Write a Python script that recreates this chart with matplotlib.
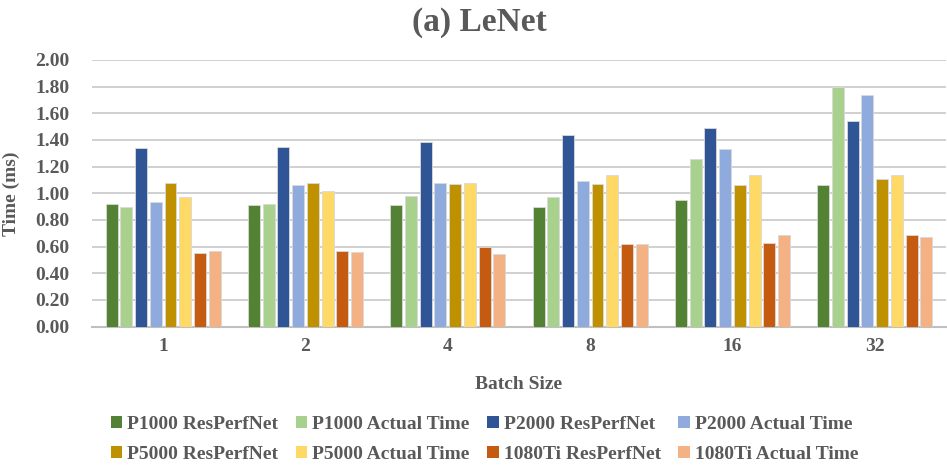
import matplotlib
matplotlib.use('Agg')
import matplotlib.pyplot as plt
import numpy as np

# data
batch_sizes = ['1', '2', '4', '8', '16', '32']
series_names = ['P1000 ResPerfNet', 'P1000 Actual Time', 'P2000 ResPerfNet', 'P2000 Actual Time',
                'P5000 ResPerfNet', 'P5000 Actual Time', '1080Ti ResPerfNet', '1080Ti Actual Time']
p1000_pred = [0.92, 0.91, 0.91, 0.90, 0.95, 1.065]
p1000_act = [0.90, 0.92, 0.98, 0.97, 1.255, 1.795]
p2000_pred = [1.34, 1.345, 1.385, 1.435, 1.49, 1.54]
p2000_act = [0.935, 1.06, 1.08, 1.09, 1.33, 1.735]
p5000_pred = [1.08, 1.075, 1.07, 1.07, 1.065, 1.11]
p5000_act = [0.97, 1.02, 1.075, 1.135, 1.135, 1.135]
ti1080_pred = [0.55, 0.565, 0.60, 0.62, 0.63, 0.69]
ti1080_act = [0.565, 0.56, 0.545, 0.62, 0.685, 0.67]

series = [p1000_pred, p1000_act, p2000_pred, p2000_act,
          p5000_pred, p5000_act, ti1080_pred, ti1080_act]
colors = ['#548235', '#A9D18E', '#2F5597', '#8FAADC',
          '#BF9000', '#FFD966', '#C55A11', '#F4B183']

TXT = '#595959'
plt.rcParams['font.family'] = ['Liberation Serif', 'DejaVu Serif']
plt.rcParams['font.weight'] = 'bold'

fig = plt.figure(figsize=(9.47, 4.66), dpi=100)
ax = fig.add_axes([0.0971, 0.299, 0.9018, 0.5723])

x = np.arange(len(batch_sizes))
slot, bw = 0.1035, 0.084
for j, (vals, c, name) in enumerate(zip(series, colors, series_names)):
    ax.bar(x + (j - 3.5) * slot, vals, bw, color=c, label=name,
           edgecolor='#d9d9d9', linewidth=0.6, zorder=3)

ax.set_xlim(-0.5, len(batch_sizes) - 0.5)
ax.set_ylim(0, 2.0)
ax.set_yticks(np.arange(0, 2.01, 0.2))
ax.set_yticklabels([f'{v:.2f}' for v in np.arange(0, 2.01, 0.2)])
ax.set_xticks(x)
ax.set_xticklabels(batch_sizes)
ax.yaxis.grid(True, color='#c8c8c8', lw=1.2, zorder=0)
ax.set_axisbelow(True)
for s in ['top', 'right', 'left']:
    ax.spines[s].set_visible(False)
ax.spines['bottom'].set_color('#bfbfbf')
ax.spines['bottom'].set_linewidth(1.5)
ax.tick_params(axis='y', length=0, pad=16, labelsize=14, labelcolor=TXT)
ax.tick_params(axis='x', length=0, pad=8, labelsize=14, labelcolor=TXT)

ax.set_ylabel('Time (ms)', fontsize=14, color=TXT, fontweight='bold')
ax.yaxis.set_label_coords(-0.0843, 0.5)
ax.set_xlabel('Batch Size', fontsize=14, color=TXT, fontweight='bold')
ax.xaxis.set_label_coords(0.5, -0.185)

fig.text(479 / 947, 1 - 22 / 466, '(a) LeNet', ha='center', va='center',
         fontsize=24, fontweight='bold', color=TXT)

# legend fills column-wise, so reorder to read row-wise like the original
handles, labels = ax.get_legend_handles_labels()
order = [0, 4, 1, 5, 2, 6, 3, 7]
leg = fig.legend([handles[i] for i in order], [labels[i] for i in order],
                 loc='center', bbox_to_anchor=(0.5116, 0.0569), ncol=4,
                 frameon=False, fontsize=14, handlelength=0.6, handleheight=0.6,
                 handletextpad=0.25, columnspacing=0.9, labelspacing=0.65)
for t in leg.get_texts():
    t.set_color(TXT)
for h in leg.legend_handles:
    h.set_edgecolor('none')

fig.savefig('out.png', dpi=100, facecolor='white')
